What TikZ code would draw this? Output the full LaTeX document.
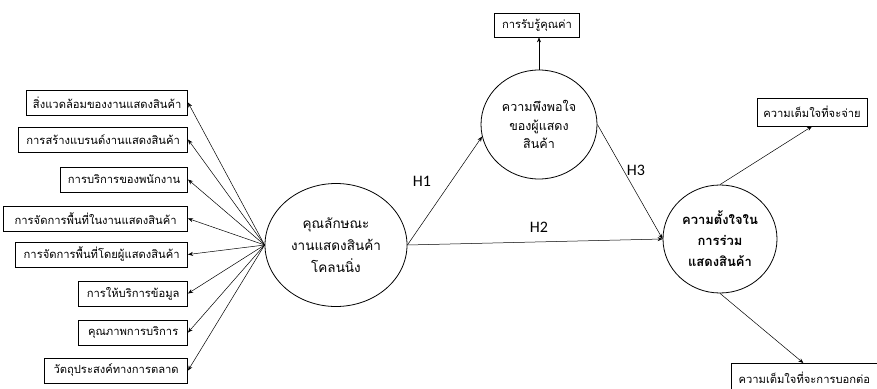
\documentclass[tikz,border=0pt]{standalone}
\usepackage{fontspec}
\newfontfamily\thai[Script=Thai]{Loma}
\newfontfamily\hfont{Carlito}
\usetikzlibrary{shapes.geometric,arrows.meta}
\tikzset{
  box/.style={draw,line width=0.7pt,minimum height=25pt,inner sep=1pt,font=\thai\fontsize{11.2}{13}\selectfont},
  oval/.style={draw,ellipse,line width=0.8pt,inner sep=0pt,align=center},
  conn/.style={line width=0.5pt,-{Stealth[length=5pt,width=4pt]}},
  hlab/.style={font=\hfont\fontsize{16}{18}\selectfont}
}
\begin{document}
\begin{tikzpicture}[x=1pt,y=-1pt]
\useasboundingbox (0,0) rectangle (877,388);
% left boxes
\node[box,anchor=east,minimum width=161pt] (b1) at (188,102.5) {สิ่งแวดล้อมของงานแสดงสินค้า};
\node[box,anchor=east,minimum width=169pt] (b2) at (188,139.5) {การสร้างแบรนด์งานแสดงสินค้า};
\node[box,anchor=east,minimum width=127pt] (b3) at (188,179.5) {การบริการของพนักงาน};
\node[box,anchor=east,minimum width=184pt] (b4) at (188,218.5) {การจัดการพื้นที่ในงานแสดงสินค้า};
\node[box,anchor=east,minimum width=172pt] (b5) at (188,254.5) {การจัดการพื้นที่โดยผู้แสดงสินค้า};
\node[box,anchor=east,minimum width=109pt] (b6) at (188,293.5) {การให้บริการข้อมูล};
\node[box,anchor=east,minimum width=109pt] (b7) at (188,332.5) {คุณภาพการบริการ};
\node[box,anchor=east,minimum width=143pt] (b8) at (188,370.5) {วัตถุประสงค์ทางการตลาด};
% circles
\node[oval,minimum width=142pt,minimum height=123pt,font=\thai\fontsize{13.5}{22}\selectfont] (main) at (336,245) {คุณลักษณะ\\งานแสดงสินค้า\\โคลนนิ่ง};
\node[oval,minimum width=116pt,minimum height=109pt,font=\thai\fontsize{12.5}{18.5}\selectfont] (sat) at (539,124.5) {ความพึงพอใจ\\ของผู้แสดง\\สินค้า};
\node[oval,minimum width=114pt,minimum height=108pt,font=\thai\bfseries\fontsize{13}{21}\selectfont] (int) at (720,239) {ความตั้งใจใน\\การร่วม\\แสดงสินค้า};
% other boxes
\node[box,minimum width=85pt,minimum height=24pt] (val) at (537,25) {การรับรู้คุณค่า};
\node[box,minimum width=110pt,minimum height=28pt] (pay) at (812,112) {ความเต็มใจที่จะจ่าย};
\node[box,anchor=north west,minimum width=146pt,minimum height=28pt] (tell) at (731,363) {ความเต็มใจที่จะการบอกต่อ};
% connectors
\foreach \b in {b1,b2,b3,b4,b5,b6,b7,b8}{
  \draw[conn] (main.west) -- (\b.east);
}
\draw[conn] (main.east) -- (sat.192);
\draw[conn] (main.east) -- (int.west);
\draw[conn] (sat.east) -- (int.west);
\draw[conn] (sat.north) -- (sat.north |- val.south);
\draw[conn] (int.north) -- (pay.south);
\draw[conn] (int.south) -- ([xshift=-1pt]tell.north);
% labels
\node[hlab] (h1) at (422,181) {H1};
\node[hlab] (h2) at (539,227) {H2};
\node[hlab] (h3) at (636,170) {H3};
\end{tikzpicture}
\end{document}
